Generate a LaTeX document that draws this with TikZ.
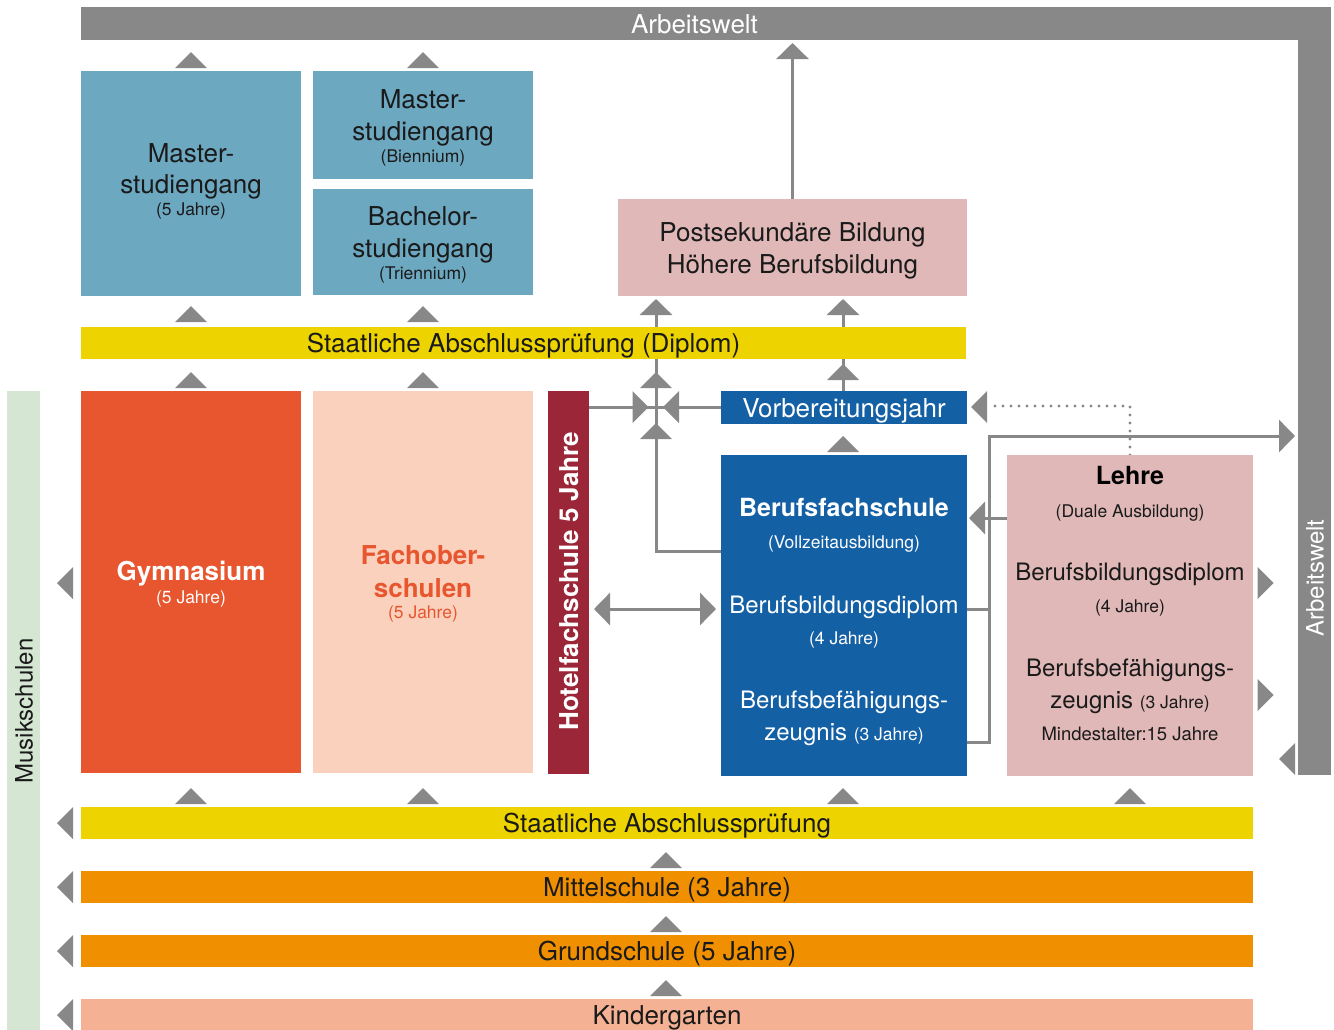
\documentclass[tikz,border=0pt]{standalone}
\usepackage{fontspec}
\setmainfont{TeX Gyre Heros}
\usetikzlibrary{arrows.meta,backgrounds}
\definecolor{agray}{HTML}{888888}
\definecolor{stud}{HTML}{6DA8C1}
\definecolor{rose}{HTML}{E0B8B8}
\definecolor{yel}{HTML}{EDD400}
\definecolor{gymc}{HTML}{E8562F}
\definecolor{fachc}{HTML}{FAD1BD}
\definecolor{hotc}{HTML}{9A2637}
\definecolor{bfsc}{HTML}{1460A5}
\definecolor{musc}{HTML}{D5E6D3}
\definecolor{mitc}{HTML}{F09000}
\definecolor{kinc}{HTML}{F5B194}
\definecolor{txc}{HTML}{1A1A1A}
\newcommand\fA{\fontsize{26}{31}\selectfont}
\newcommand\fB{\fontsize{24}{29}\selectfont}
\newcommand\fH{\fontsize{25}{30}\selectfont}
\newcommand\fS{\fontsize{17.5}{21}\selectfont}
\newcommand\fM{\fontsize{18.5}{22}\selectfont}
\newcommand\mkbox[7]{\node[box,#6,minimum width={(#4-#2)*1pt},minimum height={(#5-#3)*1pt}] (#1) at ({(#2+#4)/2},{(#3+#5)/2}) {#7};}
\tikzset{
 box/.style={rectangle,draw=none,inner sep=0pt,outer sep=0pt,align=center,text=txc},
 bartext/.style={font=\fA,text height=19pt,text depth=0pt},
 tx/.style={anchor=base,inner sep=0pt,outer sep=0pt,text=txc},
 rottx/.style={rotate=90,inner sep=0pt,outer sep=0pt,text height=18pt,text depth=0pt},
 conn/.style={draw=agray,line width=3pt},
 bigtri/.tip={Triangle[width=32pt,length=16pt]},
 dotc/.style={draw=agray,line width=3.2pt,line cap=round,dash pattern=on 0pt off 8pt},
 triU/.pic={\fill[agray] (-16,8) -- (16,8) -- (0,-8) -- cycle;},
 triL/.pic={\fill[agray] (8,-16) -- (8,16) -- (-8,0) -- cycle;},
 triR/.pic={\fill[agray] (-8,-16) -- (-8,16) -- (8,0) -- cycle;},
}
\begin{document}
\begin{tikzpicture}[x=1pt,y=-1pt]
\useasboundingbox (0,0) rectangle (1334,1029);
% ---------- boxes ----------
\mkbox{awtop}{81}{7}{1308}{40}{fill=agray,bartext,text=white}{Arbeitswelt}
\mkbox{awr}{1298}{7}{1331}{775}{fill=agray}{}
\node[rottx,font=\fB,text=white] (awrtext) at (1314.5,578) {Arbeitswelt};
\mkbox{mast5}{81}{71}{301}{296}{fill=stud}{}
\mkbox{mastB}{313}{71}{533}{179}{fill=stud}{}
\mkbox{bach}{313}{189}{533}{295}{fill=stud}{}
\mkbox{post}{618}{199}{967}{296}{fill=rose}{}
\mkbox{dipl}{81}{327}{966}{359}{fill=yel,bartext}{Staatliche Abschlussprüfung (Diplom)}
\mkbox{mus}{7}{391}{40}{1031}{fill=musc}{}
\node[rottx,font=\fB,text=txc] (mustext) at (23.5,711) {Musikschulen};
\mkbox{gym}{81}{391}{301}{773}{fill=gymc}{}
\mkbox{fach}{313}{391}{533}{773}{fill=fachc}{}
\mkbox{hot}{548}{391}{589}{774}{fill=hotc}{}
\node[rottx,font=\bfseries\fA,text=white,text height=19pt] (hottext) at (569,581) {Hotelfachschule 5 Jahre};
\mkbox{vor}{721}{391}{967}{424}{fill=bfsc,bartext,text=white}{Vorbereitungsjahr}
\mkbox{bfs}{721}{455}{967}{776}{fill=bfsc}{}
\mkbox{lehre}{1007}{455}{1253}{776}{fill=rose}{}
\mkbox{sap}{81}{807}{1253}{839}{fill=yel,bartext}{Staatliche Abschlussprüfung}
\mkbox{mit}{81}{871}{1253}{903}{fill=mitc,bartext}{Mittelschule (3 Jahre)}
\mkbox{gru}{81}{935}{1253}{967}{fill=mitc,bartext}{Grundschule (5 Jahre)}
\mkbox{kin}{81}{999}{1253}{1031}{fill=kinc,bartext}{Kindergarten}
% ---------- texts ----------
\node[tx,font=\fA] (m5a) at (191,162) {Master-};
\node[tx,font=\fA] (m5b) at (191,193) {studiengang};
\node[tx,font=\fS] (m5c) at (191,215) {(5 Jahre)};
\node[tx,font=\fA] (mba) at (423,108) {Master-};
\node[tx,font=\fA] (mbb) at (423,140) {studiengang};
\node[tx,font=\fS] (mbc) at (423,162) {(Biennium)};
\node[tx,font=\fA] (baa) at (423,225) {Bachelor-};
\node[tx,font=\fA] (bab) at (423,257) {studiengang};
\node[tx,font=\fS] (bac) at (423,279) {(Triennium)};
\node[tx,font=\fA] (poa) at (792.5,241) {Postsekundäre Bildung};
\node[tx,font=\fA] (pob) at (792.5,273) {Höhere Berufsbildung};
\node[tx,font=\bfseries\fA,text=white] (gya) at (191,580) {Gymnasium};
\node[tx,font=\fS,text=white] (gyb) at (191,603) {(5 Jahre)};
\node[tx,font=\bfseries\fA,text=gymc] (faa) at (423,564) {Fachober-};
\node[tx,font=\bfseries\fA,text=gymc] (fab) at (423,597) {schulen};
\node[tx,font=\fS,text=gymc] (fac) at (423,618) {(5 Jahre)};
\node[tx,font=\bfseries\fH,text=white] (bfa) at (844,516) {Berufsfachschule};
\node[tx,font=\fS,text=white] (bfb) at (844,548) {(Vollzeitausbildung)};
\node[tx,font=\fB,text=white] (bfc) at (844,613) {Berufsbildungsdiplom};
\node[tx,font=\fS,text=white] (bfd) at (844,644) {(4 Jahre)};
\node[tx,font=\fB,text=white] (bfe) at (844,708) {Berufsbefähigungs-};
\node[tx,font=\fB,text=white] (bff) at (844,740) {zeugnis {\fS(3 Jahre)}};
\node[tx,font=\bfseries\fH,text=black] (lea) at (1130,484) {Lehre};
\node[tx,font=\fS] (leb) at (1130,517) {(Duale Ausbildung)};
\node[tx,font=\fB] (lec) at (1130,580) {Berufsbildungsdiplom};
\node[tx,font=\fS] (led) at (1130,612) {(4 Jahre)};
\node[tx,font=\fB] (lee) at (1130,676) {Berufsbefähigungs-};
\node[tx,font=\fB] (lef) at (1130,708) {zeugnis {\fS(3 Jahre)}};
\node[tx,font=\fM] (leg) at (1130,740) {Mindestalter:15 Jahre};
% ---------- connectors ----------
\begin{pgfonlayer}{background}
\draw[conn,-bigtri,shorten >=3pt] (post.north) -- (post.north |- awtop.south);
\draw[conn,-bigtri,shorten >=3pt] (bfs.west |- 0,551) -- (656,551) -- (post.south -| 656,0);
\draw[conn] (hot.east |- vor.west) -- (vor.west);
\draw[conn,-bigtri,shorten >=3pt] (vor.north -| 843,0) -- (post.south -| 843,0);
\draw[conn] (bfs.east |- 0,609) -- (989,609);
\draw[conn,-bigtri,shorten >=3pt] (bfs.east |- 0,742) -- (989,742) -- (989,436) -- (awr.west |- 0,436);
\draw[conn,-bigtri,shorten >=2pt] (lehre.west |- 0,518) -- (bfs.east |- 0,518);
\draw[conn,bigtri-bigtri,shorten <=5pt,shorten >=5pt] (hot.east |- 0,609) -- (bfs.west |- 0,609);
\draw[dotc] (lehre.north) -- (1130,406) -- (988,406);
\end{pgfonlayer}
% ---------- standalone triangles ----------
\pic at (979,407) {triL};
\pic at (191,60) {triU};
\pic at (423,60) {triU};
\pic at (191,314) {triU};
\pic at (423,314) {triU};
\pic at (191,380) {triU};
\pic at (423,380) {triU};
\pic at (656,380) {triU};
\pic at (656,431) {triU};
\pic at (640.5,407) {triR};
\pic at (671,407) {triL};
\pic at (843,372) {triU};
\pic at (843,444) {triU};
\pic at (191,796) {triU};
\pic at (423,796) {triU};
\pic at (843,796) {triU};
\pic at (1130,796) {triU};
\pic at (666,860) {triU};
\pic at (666,924) {triU};
\pic at (666,988) {triU};
\pic at (65,583) {triL};
\pic at (65,823) {triL};
\pic at (65,887) {triL};
\pic at (65,951) {triL};
\pic at (65,1015) {triL};
\pic at (1265.5,583) {triR};
\pic at (1265.5,695) {triR};
\pic at (1287,759) {triL};
\end{tikzpicture}
\end{document}
